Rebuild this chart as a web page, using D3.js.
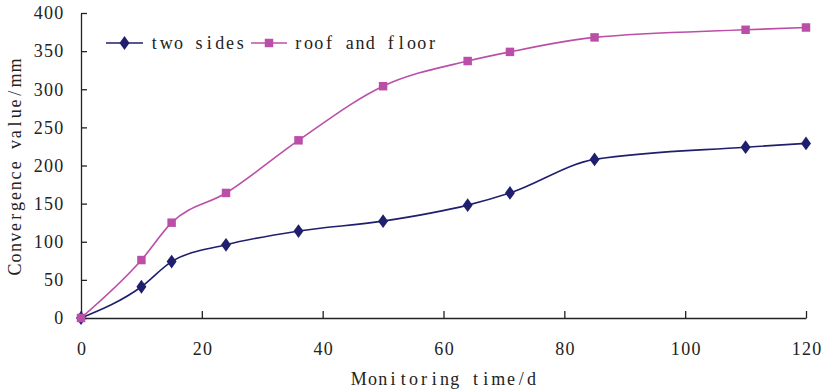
<!DOCTYPE html>
<html>
<head>
<meta charset="utf-8">
<script src="https://cdn.jsdelivr.net/npm/d3@7"></script>
<style>
  html, body { margin: 0; padding: 0; background: #fff; }
  svg text { font-family: "Liberation Serif", "DejaVu Serif", serif; fill: #222; }
</style>
</head>
<body>
<svg id="chart" width="823" height="389"></svg>
<script>
// monitoring days and measured convergence (mm)
const days = [0, 10, 15, 24, 36, 50, 64, 71, 85, 110, 120];
const twoSides = [0, 41, 74, 96, 114, 127, 148, 164, 208, 224, 229];
const roofFloor = [0, 76, 125, 164, 233, 304, 337, 349, 368, 378, 381];
const seriesNames = ['two sides', 'roof and floor'];
const xTicks = [0, 20, 40, 60, 80, 100, 120];
const yTicks = [0, 50, 100, 150, 200, 250, 300, 350, 400];

const svg = d3.select('#chart');
const plotLeft = 81, plotRight = 806, plotTop = 13, plotBottom = 318;
const fontSize = 18;
const cell = 10.3; // the original font has fixed-width latin glyphs

const x = d3.scaleLinear().domain([0, 120]).range([plotLeft, plotRight]);
const y = d3.scaleLinear().domain([0, 400]).range([plotBottom, plotTop]);

const navy = '#1f1f6e';
const pink = '#bb4fa7';

// lay out a string roughly one glyph per fixed cell, like a half-width CJK font;
// glyphs wider than a cell (M, m, w) just take a bit more room
function monoText(sel, str, x0, anchor) {
  sel.text(null).style('font-size', fontSize + 'px');
  const spans = str.split('').map(c => sel.append('tspan').attr('text-anchor', 'middle').text(c));
  const slots = spans.map(t => Math.max(cell, t.node().getComputedTextLength() + 1));
  const w = d3.sum(slots);
  let pos = anchor === 'middle' ? x0 - w / 2 : anchor === 'end' ? x0 - w : x0;
  spans.forEach((t, i) => {
    t.attr('x', pos + slots[i] / 2);
    pos += slots[i];
  });
  return sel;
}

// axes
const xAxis = svg.append('g')
  .attr('transform', 'translate(0,' + plotBottom + ')')
  .call(d3.axisBottom(x).tickValues(xTicks).tickSizeInner(-7).tickSizeOuter(0).tickPadding(24));
const yAxis = svg.append('g')
  .attr('transform', 'translate(' + plotLeft + ',0)')
  .call(d3.axisLeft(y).tickValues(yTicks).tickSizeInner(-6).tickSizeOuter(0).tickPadding(17));

[xAxis, yAxis].forEach(g => {
  g.selectAll('path, line').attr('stroke', '#222').attr('stroke-width', 1.3);
});
xAxis.selectAll('.tick text').each(function (d) {
  monoText(d3.select(this), String(d), 0, 'middle');
});
yAxis.selectAll('.tick text').each(function (d) {
  monoText(d3.select(this), String(d), -17, 'end');
});

// axis titles
monoText(svg.append('text').attr('y', 385), 'Monitoring time/d', (plotLeft + plotRight) / 2, 'middle');

monoText(svg.append('text').attr('transform', 'translate(21,167) rotate(-90)'),
  'Convergence value/mm', 0, 'middle');

// series
const series = [
  { name: seriesNames[0], values: twoSides, color: navy, marker: d3.symbolDiamond, size: 55 },
  { name: seriesNames[1], values: roofFloor, color: pink, marker: d3.symbolSquare, size: 72 }
];

const line = d3.line()
  .x(d => x(d[0]))
  .y(d => y(d[1]))
  .curve(d3.curveMonotoneX);

const markerTransform = (s, px, py) =>
  'translate(' + px + ',' + py + ')' + (s.marker === d3.symbolDiamond ? ' scale(1.25,1)' : '');

series.forEach(s => {
  const pts = days.map((d, i) => [d, s.values[i]]);
  svg.append('path')
    .datum(pts)
    .attr('d', line)
    .attr('fill', 'none')
    .attr('stroke', s.color)
    .attr('stroke-width', 1.6);

  svg.append('g')
    .selectAll('path')
    .data(pts)
    .enter()
    .append('path')
    .attr('d', d3.symbol().type(s.marker).size(s.size))
    .attr('transform', d => markerTransform(s, x(d[0]), y(d[1])))
    .attr('fill', s.color);
});

// legend
const legendItems = [
  { x0: 106, x1: 143, tx: 149 },
  { x0: 251, x1: 287, tx: 293 }
];
const legendY = 43;
series.forEach((s, i) => {
  const it = legendItems[i];
  const g = svg.append('g');
  g.append('line')
    .attr('x1', it.x0).attr('x2', it.x1)
    .attr('y1', legendY).attr('y2', legendY)
    .attr('stroke', s.color).attr('stroke-width', 1.6);
  g.append('path')
    .attr('d', d3.symbol().type(s.marker).size(s.size))
    .attr('transform', markerTransform(s, (it.x0 + it.x1) / 2, legendY))
    .attr('fill', s.color);
  monoText(g.append('text').attr('y', legendY + 6), s.name, it.tx, 'start');
});
</script>
</body>
</html>
